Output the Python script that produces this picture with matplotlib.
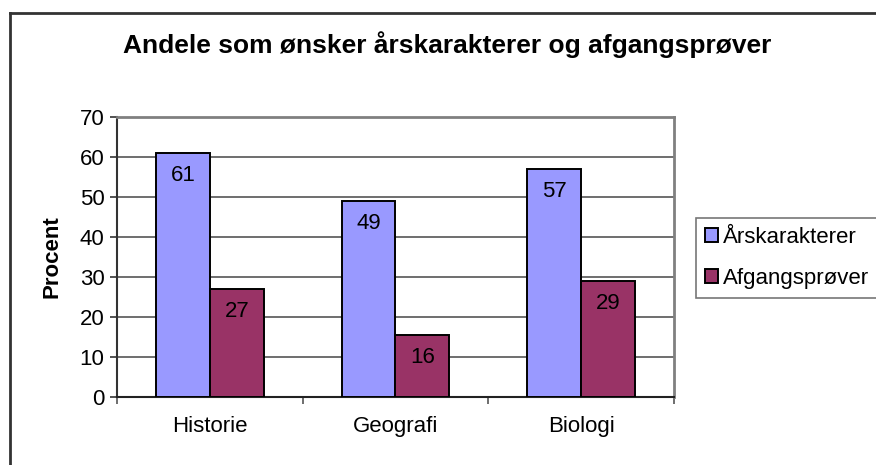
import numpy as np
import matplotlib.pyplot as plt
from matplotlib.lines import Line2D

plt.rcParams['font.family'] = ['Liberation Sans', 'DejaVu Sans']

categories = ["Historie", "Geografi", "Biologi"]
aarskarakterer = [61, 49, 57]
afgangsproever = [27, 15.5, 29]
labels_aar = ["61", "49", "57"]
labels_afg = ["27", "16", "29"]
series_names = ["Årskarakterer", "Afgangsprøver"]
yticks = [0, 10, 20, 30, 40, 50, 60, 70]

fs = 16

fig = plt.figure(figsize=(8.76, 4.65), dpi=100)
ax = fig.add_axes([117 / 876, 1 - 397 / 465, 557 / 876, 280 / 465])

x = np.arange(len(categories))
w = 0.29
b1 = ax.bar(x - w / 2, aarskarakterer, w, color="#9999FF", edgecolor="black", linewidth=1.4,
            label=series_names[0], zorder=3)
b2 = ax.bar(x + w / 2, afgangsproever, w, color="#993366", edgecolor="black", linewidth=1.4,
            label=series_names[1], zorder=3)

for rect, lab in zip(b1, labels_aar):
    ax.text(rect.get_x() + rect.get_width() / 2, rect.get_height() - 5.6, lab,
            ha="center", va="center", fontsize=fs, zorder=4)
for rect, lab in zip(b2, labels_afg):
    ax.text(rect.get_x() + rect.get_width() / 2, rect.get_height() - 5.6, lab,
            ha="center", va="center", fontsize=fs, zorder=4)

ax.set_xlim(-0.5, len(categories) - 0.5)
ax.set_ylim(0, 70)
ax.set_yticks(yticks)
ax.set_xticks(x)
ax.set_xticklabels(categories)
ax.set_xticks(np.arange(len(categories) + 1) - 0.5, minor=True)
ax.tick_params(axis="x", which="major", length=0, labelsize=fs, pad=14)
ax.tick_params(axis="x", which="minor", length=5, width=1.2, color="#555555")
ax.tick_params(axis="y", length=5, width=1.2, color="#333333", labelsize=fs, pad=4)
ax.yaxis.grid(True, color="#555555", linewidth=1.2, zorder=1)
ax.set_axisbelow(True)

ax.spines["left"].set_color("#333333")
ax.spines["left"].set_linewidth(1.5)
ax.spines["bottom"].set_color("#222222")
ax.spines["bottom"].set_linewidth(1.5)
for s in ["top", "right"]:
    ax.spines[s].set_color("#808080")
    ax.spines[s].set_linewidth(2)

ax.set_ylabel("Procent", fontsize=fs, fontweight="bold", labelpad=12)

fig.text(447 / 876, 1 - 45 / 465, "Andele som ønsker årskarakterer og afgangsprøver",
         ha="center", va="center", fontsize=19, fontweight="bold")

leg = fig.legend(loc="center left", bbox_to_anchor=(696 / 876, 1 - 258 / 465),
                 fontsize=fs, frameon=True, fancybox=False, edgecolor="#555555",
                 handlelength=0.6, handleheight=0.6, handletextpad=0.2,
                 labelspacing=0.9, borderpad=0.4, borderaxespad=0)
leg.get_frame().set_linewidth(1.2)

# outer chart border (cropped at right and bottom)
fig.add_artist(Line2D([10 / 876, 10 / 876], [0, 1 - 13 / 465], color="#333333", linewidth=2,
                      transform=fig.transFigure))
fig.add_artist(Line2D([10 / 876, 1], [1 - 13 / 465, 1 - 13 / 465], color="#333333", linewidth=2,
                      transform=fig.transFigure))

fig.savefig("out.png", dpi=100)
